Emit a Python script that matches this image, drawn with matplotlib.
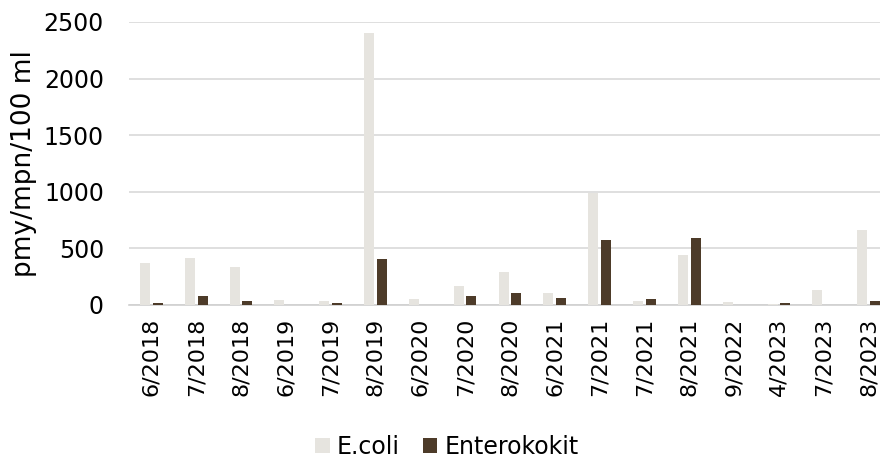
import matplotlib
matplotlib.use("Agg")
import matplotlib.pyplot as plt
from matplotlib.patches import Patch
import numpy as np

plt.rcParams['font.family'] = ['DejaVu Sans']

categories = ["6/2018", "7/2018", "8/2018", "6/2019", "7/2019", "8/2019",
              "6/2020", "7/2020", "8/2020", "6/2021", "7/2021", "7/2021",
              "8/2021", "9/2022", "4/2023", "7/2023", "8/2023"]
ecoli = [374, 418, 338, 44, 35, 2400, 56, 171, 295, 104, 990, 35,
         442, 24, 5, 133, 664]
enterokokit = [22, 80, 35, 0, 22, 406, 0, 80, 104, 65, 574, 56,
               589, 0, 20, 0, 35]

ecoli_color = "#E6E4DF"
entero_color = "#4D3B29"

fig = plt.figure(figsize=(8.8, 4.61), dpi=100)
ax = fig.add_axes([0.1465, 0.3384, 0.866, 0.614])

x = np.arange(len(categories))
w = 0.223
off = 0.1416
ax.bar(x - off, ecoli, width=w, color=ecoli_color, zorder=3)
ax.bar(x + off, enterokokit, width=w, color=entero_color, zorder=3)

ax.set_xlim(-0.5, len(categories) - 0.5)
ax.set_ylim(0, 2500)
ax.set_yticks(range(0, 2501, 500))
ax.yaxis.grid(True, color="#D9D9D9", linewidth=1.2, zorder=0)
ax.set_axisbelow(True)

for s in ["top", "right", "left"]:
    ax.spines[s].set_visible(False)
ax.spines["bottom"].set_color("#D0D0D0")
ax.spines["bottom"].set_linewidth(1.2)

ax.set_xticks(x)
ax.set_xticklabels(categories, rotation=90, fontsize=16)
ax.tick_params(axis="x", length=0, pad=9)
ax.tick_params(axis="y", length=0, pad=18, labelsize=17)
ax.set_ylabel("pmy/mpn/100 ml", fontsize=19, labelpad=5)

handles = [Patch(facecolor=ecoli_color, label="E.coli"),
           Patch(facecolor=entero_color, label="Enterokokit")]
fig.legend(handles=handles, loc="center", bbox_to_anchor=(0.508, 0.030),
           ncol=2, frameon=False, fontsize=17, handlelength=0.6,
           handleheight=0.6, handletextpad=0.3, columnspacing=1.0)

fig.savefig("out.png", dpi=100)
